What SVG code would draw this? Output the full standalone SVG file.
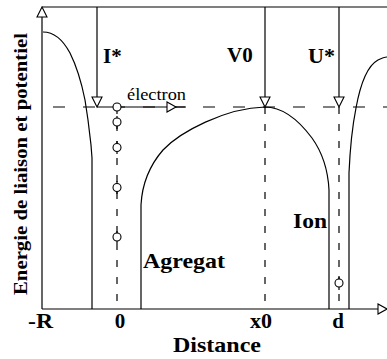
<svg xmlns="http://www.w3.org/2000/svg" width="387" height="359" viewBox="0 0 387 359">
<style>
.ln{stroke:#000;stroke-width:1.2;fill:none}
.dh{stroke:#000;stroke-width:1.2;fill:none;stroke-dasharray:12 18;stroke-dashoffset:19}
.dv{stroke:#000;stroke-width:1.2;fill:none;stroke-dasharray:7 10}
.tri{stroke:#000;stroke-width:1.1;fill:#fff}
.pt{stroke:#000;stroke-width:1.1;fill:#fff}
.lb{font-family:"Liberation Serif","Times New Roman",serif;font-weight:bold;font-size:21px;fill:#000}
.nm{font-family:"Liberation Serif","Times New Roman",serif;font-size:16px;fill:#000}
</style>
<rect width="387" height="359" fill="#fff"/>
<g id="axes">
<line class="ln" x1="42" y1="7" x2="387" y2="7"/>
<line class="ln" x1="42" y1="9" x2="42" y2="309"/>
<line class="ln" x1="42" y1="309" x2="379" y2="309"/>
<polygon class="tri" points="42,7 37,17 47,17"/>
<polygon class="tri" points="378,304 378,314 387,309"/>
<line class="dh" x1="42" y1="107" x2="387" y2="107"/>
</g>
<g id="curves">
<path class="ln" d="M43,32 C55,32 63,40 70,53 C77,67 82,85 85,100 L88,120 L91,145 L92,158 L92,309"/>
<path class="ln" d="M141,309 L141,205 C142,185 150,165 163,150 C180,132 225,108 265,107 C285,107 300,122 312,138 C322,152 328,170 329,190 L329,309"/>
<path class="ln" d="M349,309 L349,173 C350,150 352,128 356,108 C360,86 367,66 378,60 C382,58 385,57 387,57"/>
</g>
<g id="connectors">
<line class="dv" x1="117" y1="107" x2="117" y2="309"/>
<line class="dv" x1="265" y1="107" x2="265" y2="309"/>
<line class="dv" x1="339" y1="107" x2="339" y2="309"/>
<line class="ln" x1="97" y1="7" x2="97" y2="97"/>
<polygon class="tri" points="92,97 102,97 97,107"/>
<line class="ln" x1="265" y1="7" x2="265" y2="97"/>
<polygon class="tri" points="260,97 270,97 265,107"/>
<line class="ln" x1="339" y1="7" x2="339" y2="97"/>
<polygon class="tri" points="334,97 344,97 339,107"/>
<line class="ln" x1="97" y1="107" x2="186" y2="107"/>
<polygon class="tri" points="167,102 167,112 176,107"/>
</g>
<g id="electrons">
<g class="ln"><line x1="117" y1="116" x2="117" y2="129"/><line x1="117" y1="141" x2="117" y2="154"/><line x1="117" y1="181" x2="117" y2="194"/><line x1="117" y1="231" x2="117" y2="243"/><line x1="339" y1="276" x2="339" y2="290"/></g>
<circle class="pt" cx="117" cy="107" r="4"/>
<circle class="pt" cx="117" cy="122" r="4"/>
<circle class="pt" cx="117" cy="147.5" r="4"/>
<circle class="pt" cx="117" cy="187.5" r="4"/>
<circle class="pt" cx="117" cy="237" r="4"/>
<circle class="pt" cx="339" cy="283" r="4"/>
</g>
<g id="labels">
<text class="lb" x="103" y="63">I*</text>
<text class="lb" x="227" y="62">V0</text>
<text class="lb" x="308" y="63" textLength="27" lengthAdjust="spacingAndGlyphs">U*</text>
<text class="nm" x="127" y="100" textLength="59" lengthAdjust="spacingAndGlyphs">électron</text>
<text class="lb" x="143" y="268" textLength="82" lengthAdjust="spacingAndGlyphs">Agregat</text>
<text class="lb" x="293" y="228" textLength="34" lengthAdjust="spacingAndGlyphs">Ion</text>
<text class="lb" x="28" y="328" textLength="25" lengthAdjust="spacingAndGlyphs">-R</text>
<text class="lb" x="120" y="328" text-anchor="middle">0</text>
<text class="lb" x="250" y="328" textLength="22" lengthAdjust="spacingAndGlyphs">x0</text>
<text class="lb" x="338" y="328" text-anchor="middle">d</text>
<text class="lb" x="173" y="352" textLength="88" lengthAdjust="spacingAndGlyphs">Distance</text>
<text class="lb" style="font-size:18px" transform="translate(27,295) rotate(-90)" textLength="262" lengthAdjust="spacingAndGlyphs">Energie de liaison et potentiel</text>
</g>
</svg>
